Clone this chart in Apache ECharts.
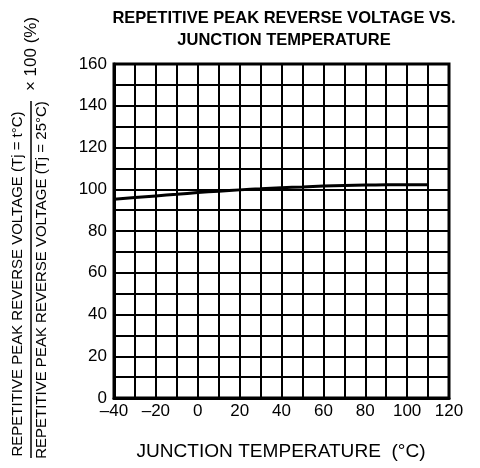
<!DOCTYPE html>
<html>
<head>
<meta charset="utf-8">
<script src="https://cdn.jsdelivr.net/npm/echarts@6/dist/echarts.min.js"></script>
<style>
  html, body { margin: 0; padding: 0; background: #fff; }
  #chart { width: 480px; height: 468px; }
</style>
</head>
<body>
<div id="chart"></div>
<script>
// junction temperature (°C)
const tempC = [-40, -30, -20, -10, 0, 10, 20, 30, 40, 50, 60, 70, 80, 90, 100, 110]
// ratio of repetitive peak reverse voltage vs 25°C (%)
const ratio = [95.2, 96.0, 96.8, 97.6, 98.4, 99.1, 99.7, 100.2, 100.7, 101.1, 101.5, 101.8, 102.0, 102.1, 102.2, 102.2]

const titleLines = ['REPETITIVE PEAK REVERSE VOLTAGE VS.', 'JUNCTION TEMPERATURE']
const xName = 'JUNCTION TEMPERATURE  (°C)'
const yNumer = 'REPETITIVE PEAK REVERSE VOLTAGE (Tj = t°C)'
const yDenom = 'REPETITIVE PEAK REVERSE VOLTAGE (Tj = 25°C)'
const yTimes = '× 100 (%)'

const FONT = '"Liberation Sans", Arial, Helvetica, sans-serif'

const chart = echarts.init(document.getElementById('chart'), null, { renderer: 'canvas' })

const lineData = tempC.map((t, i) => [t, ratio[i]])

chart.setOption({
  backgroundColor: '#fff',
  animation: false,
  grid: {
    left: 114,
    right: 31,
    top: 64,
    bottom: 70,
    show: true,
    borderColor: '#000',
    borderWidth: 3,
    backgroundColor: 'transparent'
  },
  xAxis: {
    type: 'value',
    min: -40,
    max: 120,
    interval: 10,
    axisLine: { show: true, onZero: false, lineStyle: { color: '#000', width: 3 } },
    axisTick: { show: false },
    splitLine: { show: true, lineStyle: { color: '#000', width: 2 } },
    axisLabel: {
      color: '#000',
      fontFamily: FONT,
      fontSize: 17,
      margin: 5,
      formatter: v => (v % 20 === 0 ? String(v).replace('-', '\u2013') : '')
    }
  },
  yAxis: {
    type: 'value',
    min: 0,
    max: 160,
    interval: 10,
    axisLine: { show: true, onZero: false, lineStyle: { color: '#000', width: 3 } },
    axisTick: { show: false },
    splitLine: { show: true, lineStyle: { color: '#000', width: 2 } },
    axisLabel: {
      color: '#000',
      fontFamily: FONT,
      fontSize: 17,
      margin: 7,
      formatter: v => (v % 20 === 0 ? String(v) : '')
    }
  },
  series: [{
    type: 'line',
    data: lineData,
    showSymbol: false,
    smooth: true,
    lineStyle: { color: '#000', width: 3 },
    z: 5
  }],
  graphic: [
    {
      type: 'text', x: 284, y: 18,
      style: { text: titleLines[0], font: 'bold 16.5px ' + FONT, fill: '#000', align: 'center', verticalAlign: 'middle' }
    },
    {
      type: 'text', x: 284, y: 40,
      style: { text: titleLines[1], font: 'bold 16.5px ' + FONT, fill: '#000', align: 'center', verticalAlign: 'middle' }
    },
    {
      type: 'text', x: 281, y: 452, scaleX: 1.06,
      style: { text: xName, font: '18px ' + FONT, fill: '#000', align: 'center', verticalAlign: 'middle' }
    },
    {
      type: 'text', x: 18, y: 284, rotation: Math.PI / 2,
      style: { text: yNumer, font: '15px ' + FONT, fill: '#000', align: 'center', verticalAlign: 'middle' }
    },
    {
      type: 'text', x: 42, y: 280, rotation: Math.PI / 2,
      style: { text: yDenom, font: '15px ' + FONT, fill: '#000', align: 'center', verticalAlign: 'middle' }
    },
    {
      type: 'line',
      shape: { x1: 31, y1: 101, x2: 31, y2: 458 },
      style: { stroke: '#000', lineWidth: 1.5 }
    },
    {
      type: 'text', x: 31, y: 54, rotation: Math.PI / 2,
      style: { text: yTimes, font: '17px ' + FONT, fill: '#000', align: 'center', verticalAlign: 'middle' }
    }
  ]
})
</script>
</body>
</html>
